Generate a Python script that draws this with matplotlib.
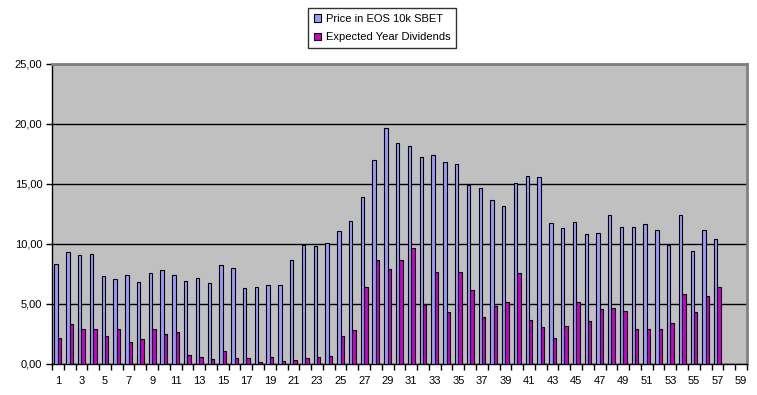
import numpy as np
from matplotlib import pyplot as plt
from matplotlib.ticker import FuncFormatter

plt.rcParams['font.family'] = ['Liberation Sans', 'DejaVu Sans']

# values, positions 1..57 (axis runs to 59)
n_cats = 59
price = [8.3, 9.3, 9.1, 9.15, 7.3, 7.05, 7.4, 6.8, 7.55, 7.8,
         7.4, 6.95, 7.2, 6.75, 8.25, 8.0, 6.3, 6.4, 6.6, 6.55,
         8.7, 9.95, 9.8, 10.05, 11.05, 11.9, 13.9, 17.0, 19.7, 18.4,
         18.2, 17.25, 17.4, 16.8, 16.65, 14.9, 14.65, 13.7, 13.2, 15.05,
         15.65, 15.55, 11.75, 11.3, 11.8, 10.8, 10.95, 12.4, 11.45, 11.45,
         11.65, 11.15, 9.9, 12.45, 9.4, 11.2, 10.4]
dividends = [2.15, 3.3, 2.9, 2.9, 2.3, 2.9, 1.8, 2.1, 2.95, 2.5,
             2.65, 0.75, 0.55, 0.4, 1.05, 0.47, 0.47, 0.14, 0.55, 0.22,
             0.3, 0.47, 0.55, 0.65, 2.3, 2.85, 6.4, 8.7, 7.95, 8.7,
             9.7, 4.9, 7.65, 4.3, 7.7, 6.15, 3.9, 4.8, 5.2, 7.55,
             3.7, 3.05, 2.2, 3.15, 5.2, 3.55, 4.55, 4.7, 4.45, 2.9,
             2.95, 2.9, 3.4, 5.8, 4.3, 5.65, 6.4]
series_names = ['Price in EOS 10k SBET', 'Expected Year Dividends']

x = np.arange(1, len(price) + 1)

fig = plt.figure(figsize=(7.57, 3.95), dpi=100)
ax = fig.add_axes([0.0687, 0.0785, 0.918, 0.7595])
ax.set_facecolor('#C0C0C0')

w = 0.29
b1 = ax.bar(x - w / 2, price, width=w, color='#9999FF', edgecolor='black',
            linewidth=0.8, label=series_names[0], zorder=3)
b2 = ax.bar(x + w / 2, dividends, width=w, color='#CC00CC', edgecolor='black',
            linewidth=0.8, label=series_names[1], zorder=3)

ax.set_xlim(0.5, n_cats + 0.5)
ax.set_ylim(0, 25)
ax.set_yticks([0, 5, 10, 15, 20, 25])
ax.yaxis.set_major_formatter(FuncFormatter(lambda v, p: f'{v:.2f}'.replace('.', ',')))
ax.grid(axis='y', color='black', linewidth=1, zorder=1)

# labels on odd categories, tick marks between categories
ax.set_xticks(np.arange(1, n_cats + 1, 2))
ax.set_xticks(np.arange(0.5, n_cats + 1, 1), minor=True)
ax.tick_params(axis='x', which='major', length=0, pad=9, labelsize=8)
ax.tick_params(axis='x', which='minor', length=4, width=1, direction='out')
ax.tick_params(axis='y', length=4, width=1, labelsize=8, pad=3)

for s in ['top', 'right']:
    ax.spines[s].set_color('#808080')
    ax.spines[s].set_linewidth(2)
ax.spines['left'].set_linewidth(1)
ax.spines['bottom'].set_linewidth(1)

leg = fig.legend(handles=[b1, b2], loc='upper left', bbox_to_anchor=(308 / 757, 1 - 8 / 395),
                 fontsize=8, frameon=True, fancybox=False, edgecolor='black',
                 handlelength=0.7, handleheight=0.7, handletextpad=0.4,
                 borderpad=0.5, labelspacing=0.8, borderaxespad=0)
leg.get_frame().set_linewidth(1)

fig.savefig('out.png', dpi=100)
